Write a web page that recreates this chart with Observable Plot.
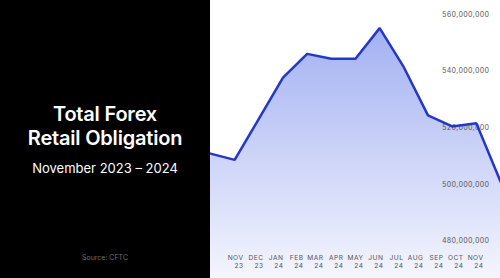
<!DOCTYPE html>
<html><head><meta charset="utf-8">
<script src="https://cdn.jsdelivr.net/npm/d3@7"></script>
<script src="https://cdn.jsdelivr.net/npm/@observablehq/plot@0.6"></script>
<style>
html,body{margin:0;padding:0;background:#fff;}
#wrap{position:relative;width:500px;height:278px;overflow:hidden;font-family:Inter,"Noto Sans",sans-serif;}
#left{position:absolute;left:0;top:0;width:210px;height:278px;background:#000;color:#fff;text-align:center;}
#title{position:absolute;left:0;width:210px;top:102px;font-size:20px;line-height:24px;font-weight:600;letter-spacing:-0.2px;}
#subtitle{position:absolute;left:0;width:210px;top:159.5px;font-size:13px;line-height:16px;font-weight:400;}
#source{position:absolute;left:0;width:210px;top:254px;font-size:7px;line-height:8px;color:#6e6e6e;}
.panel{position:absolute;left:210px;top:0;width:290px;height:278px;overflow:hidden;}
#xlab text{letter-spacing:0.5px;}
#chart text{letter-spacing:0.25px;}
</style>
</head><body>
<div id="wrap">
  <div id="left">
    <div id="title">Total Forex<br>Retail Obligation</div>
    <div id="subtitle">November 2023 – 2024</div>
    <div id="source">Source: CFTC</div>
  </div>
  <div id="chart" class="panel"></div>
  <div id="xlab" class="panel"></div>
</div>
<script>
const months = ["NOV","DEC","JAN","FEB","MAR","APR","MAY","JUN","JUL","AUG","SEP","OCT","NOV"];
const years  = ["23","23","24","24","24","24","24","24","24","24","24","24","24"];
const obligation = [510.9e6, 508.7e6, 523.2e6, 537.7e6, 546.1e6, 544.4e6, 544.4e6, 555.2e6, 541.4e6, 524.4e6, 520.5e6, 521.6e6, 501.1e6];
const yTicks = [480e6, 500e6, 520e6, 540e6, 560e6];

const keys = months.map((m, i) => m + " " + years[i]);
const data = obligation.map((v, i) => ({i, key: keys[i], v}));

const gradient = () => {
  const g = d3.create("svg:g");
  const lg = g.append("defs").append("linearGradient")
    .attr("id", "areaGrad").attr("gradientUnits", "userSpaceOnUse")
    .attr("x1", 0).attr("x2", 0).attr("y1", 28).attr("y2", 278);
  lg.append("stop").attr("offset", "0%").attr("stop-color", "#a3b1f2");
  lg.append("stop").attr("offset", "100%").attr("stop-color", "#f4f5fd");
  return g.node();
};

const chart = Plot.plot({
  width: 290, height: 278,
  margin: 0,
  style: {background: "transparent", fontFamily: "Inter, sans-serif", overflow: "hidden"},
  x: {type: "linear", domain: [0, obligation.length - 1], axis: null},
  y: {domain: [480e6, 560e6], range: [240.7, 14], axis: null},
  marks: [
    gradient,
    Plot.areaY(data, {x: "i", y: "v", fill: "url(#areaGrad)", clip: true}),
    Plot.axisY({anchor: "right", ticks: yTicks, tickSize: 0, tickPadding: 0, textAnchor: "end", dx: -11.2,
      tickFormat: d3.format(","), fontSize: 7, fill: "#555", label: null}),
    Plot.lineY(data, {x: "i", y: "v", stroke: "#2438c6", strokeWidth: 2.5, strokeLinejoin: "miter"})
  ]
});
document.getElementById("chart").appendChild(chart);

const xlab = Plot.plot({
  width: 290, height: 278,
  margin: 0,
  style: {background: "transparent", fontFamily: "Inter, sans-serif"},
  x: {type: "point", domain: keys, range: [27.8, 279.2], padding: 0, axis: null},
  marks: [
    Plot.text(months, {x: (d, i) => keys[i], text: d => d, frameAnchor: "top", lineAnchor: "top", dy: 254.8,
      textAnchor: "end", fontSize: 6.6, fill: "#555"}),
    Plot.text(years, {x: (d, i) => keys[i], text: d => d, frameAnchor: "top", lineAnchor: "top", dy: 262.8,
      textAnchor: "end", fontSize: 6.6, fill: "#555"})
  ]
});
document.getElementById("xlab").appendChild(xlab);
</script>
</body></html>
